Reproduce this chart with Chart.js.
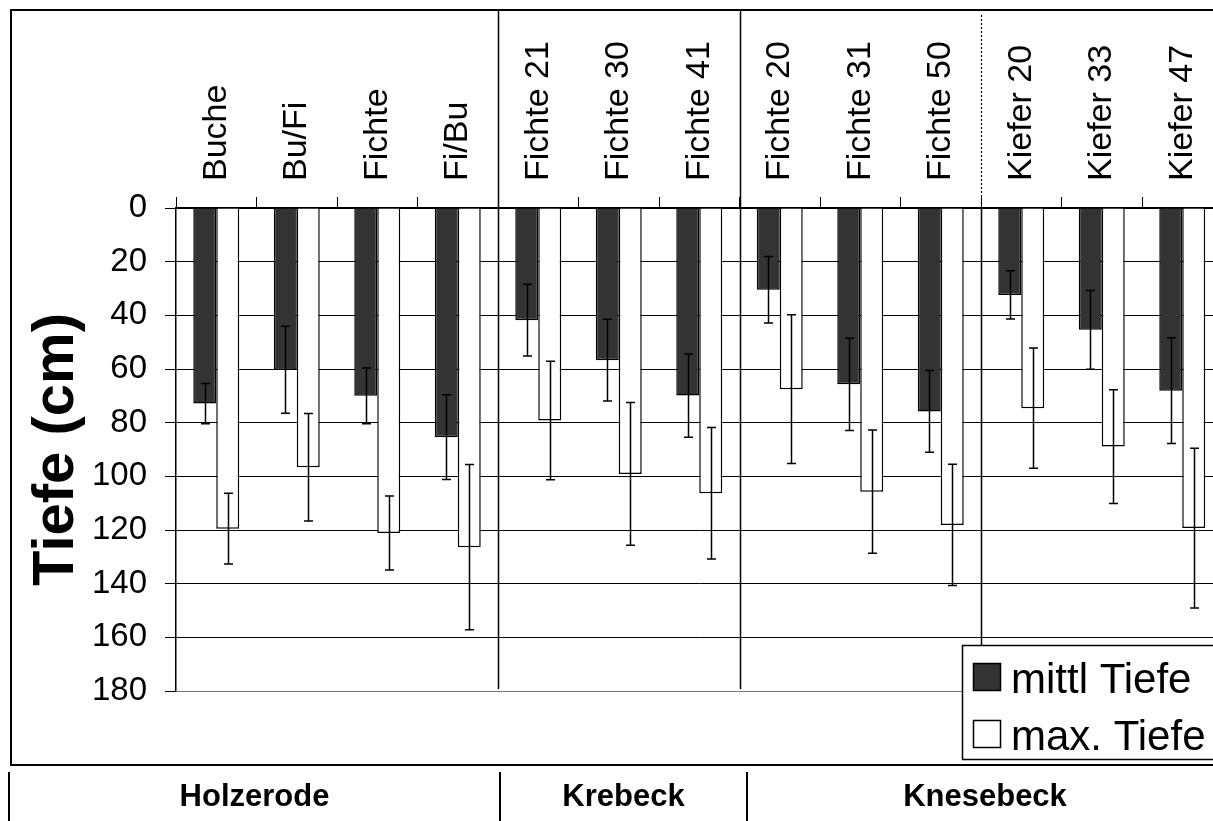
<!DOCTYPE html>
<html>
<head>
<meta charset="utf-8">
<script src="https://cdn.jsdelivr.net/npm/chart.js@4.4.1/dist/chart.umd.min.js"></script>
<style>
  html, body { margin: 0; padding: 0; background: #fff; overflow: hidden; }
  #wrap { position: absolute; left: 0; top: 0; width: 1240px; height: 821px; }
</style>
</head>
<body>
<div id="wrap"><canvas id="c" width="1240" height="821"></canvas></div>
<script>
// Stand-types (x categories)
const categories = ['Buche', 'Bu/Fi', 'Fichte', 'Fi/Bu',
  'Fichte 21', 'Fichte 30', 'Fichte 41',
  'Fichte 20', 'Fichte 31', 'Fichte 50',
  'Kiefer 20', 'Kiefer 33', 'Kiefer 47'];

// Mean rooting depth (cm) and its standard deviation
const mittlTiefe    = [72.9, 60.3, 70.0, 85.4, 41.8, 56.7, 69.9, 30.5, 65.7, 75.8, 32.4, 45.4, 68.1];
const mittlTiefeErr = [7.5, 16.2, 10.4, 15.8, 13.4, 15.2, 15.5, 12.4, 17.2, 15.2, 9.0, 14.7, 19.7];

// Maximum rooting depth (cm) and its standard deviation
const maxTiefe    = [119.5, 96.6, 121.1, 126.4, 79.2, 99.1, 106.3, 67.5, 105.7, 118.1, 74.6, 88.9, 119.3];
const maxTiefeErr = [13.2, 20.0, 13.8, 30.8, 22.1, 26.6, 24.5, 27.7, 23.0, 22.6, 22.4, 21.2, 29.8];

// Depth axis ticks
const yTicks = [0, 20, 40, 60, 80, 100, 120, 140, 160, 180];

// Sites, and the category index at which each new site starts
const sites = ['Holzerode', 'Krebeck', 'Knesebeck'];
const siteStarts = [4, 7];
// Within Knesebeck: spruce / pine split
const speciesSplit = 10;

const FONT = '"Liberation Sans", Arial, Helvetica, sans-serif';
const DARK = '#333333';

// Helper: pixel of the boundary just before category index i
function boundaryPx(xs, i) {
  return (xs.getPixelForValue(i - 1) + xs.getPixelForValue(i)) / 2;
}

const decorations = {
  id: 'decorations',
  beforeDraw(chart) {
    const ctx = chart.ctx;
    ctx.save();
    ctx.fillStyle = '#fff';
    ctx.fillRect(0, 0, chart.width, chart.height);
    ctx.restore();
  },
  afterDatasetsDraw(chart) {
    const ctx = chart.ctx;
    const xs = chart.scales.x, ys = chart.scales.y;
    const area = chart.chartArea;
    ctx.save();

    // site separators
    ctx.strokeStyle = '#000';
    ctx.lineWidth = 1.5;
    siteStarts.forEach(i => {
      const x = Math.round(boundaryPx(xs, i)) + 0.5;
      ctx.beginPath();
      ctx.moveTo(x, 10);
      ctx.lineTo(x, area.bottom - 2);
      ctx.stroke();
    });
    // spruce / pine separator: dotted above the axis, solid inside the plot
    const xs2 = Math.round(boundaryPx(xs, speciesSplit)) + 0.5;
    ctx.setLineDash([2, 2]);
    ctx.lineWidth = 1.2;
    ctx.beginPath();
    ctx.moveTo(xs2, 15);
    ctx.lineTo(xs2, area.top);
    ctx.stroke();
    ctx.setLineDash([]);
    ctx.lineWidth = 1.5;
    ctx.beginPath();
    ctx.moveTo(xs2, area.top);
    ctx.lineTo(xs2, 645);
    ctx.stroke();

    // error bars
    ctx.lineWidth = 1.5;
    chart.data.datasets.forEach((ds, di) => {
      const meta = chart.getDatasetMeta(di);
      meta.data.forEach((bar, i) => {
        const v = ds.data[i], e = ds.errors[i];
        const x = Math.round(bar.x) + 0.5;
        const y1 = ys.getPixelForValue(v - e);
        const y2 = ys.getPixelForValue(v + e);
        ctx.beginPath();
        ctx.moveTo(x, y1); ctx.lineTo(x, y2);
        ctx.moveTo(x - 4.5, y1); ctx.lineTo(x + 4.5, y1);
        ctx.moveTo(x - 4.5, y2); ctx.lineTo(x + 4.5, y2);
        ctx.stroke();
      });
    });
    ctx.restore();
  },
  afterDraw(chart) {
    const ctx = chart.ctx;
    ctx.save();

    // chart frame
    ctx.strokeStyle = '#000';
    ctx.lineWidth = 2;
    ctx.strokeRect(11, 10, chart.width + 20, 755);

    // legend
    ctx.fillStyle = '#fff';
    ctx.fillRect(962, 645, 300, 114);
    ctx.lineWidth = 1.5;
    ctx.strokeRect(962.5, 645.5, 300, 114);
    ctx.font = '42px ' + FONT;
    ctx.textBaseline = 'alphabetic';
    ctx.textAlign = 'left';
    chart.data.datasets.forEach((ds, di) => {
      const top = 663 + di * 57;
      ctx.fillStyle = ds.backgroundColor;
      ctx.fillRect(973, top, 28, 28);
      ctx.strokeStyle = '#000';
      ctx.lineWidth = 1.5;
      ctx.strokeRect(973.5, top + 0.5, 27, 27);
      ctx.fillStyle = '#000';
      ctx.fillText(ds.label, 1011, top + 30);
    });

    // site table beneath the chart
    const cols = [9, 500, 747, 1223];
    ctx.strokeStyle = '#000';
    ctx.lineWidth = 2;
    cols.forEach(x => {
      ctx.beginPath();
      ctx.moveTo(x, 772);
      ctx.lineTo(x, 821);
      ctx.stroke();
    });
    ctx.font = 'bold 31px ' + FONT;
    ctx.textAlign = 'center';
    ctx.fillStyle = '#000';
    sites.forEach((s, i) => {
      ctx.fillText(s, (cols[i] + cols[i + 1]) / 2, 806);
    });
    ctx.restore();
  }
};

new Chart(document.getElementById('c'), {
  type: 'bar',
  data: {
    labels: categories,
    datasets: [
      {
        label: 'mittl Tiefe',
        data: mittlTiefe,
        errors: mittlTiefeErr,
        backgroundColor: DARK,
        borderColor: '#000',
        borderWidth: 1.5,
        categoryPercentage: 0.571,
        barPercentage: 1.0
      },
      {
        label: 'max. Tiefe',
        data: maxTiefe,
        errors: maxTiefeErr,
        backgroundColor: '#ffffff',
        borderColor: '#000',
        borderWidth: 1.5,
        categoryPercentage: 0.571,
        barPercentage: 1.0
      }
    ]
  },
  options: {
    responsive: false,
    animation: false,
    devicePixelRatio: 1,
    layout: { padding: { left: 0, top: 0, right: 17.5, bottom: 130 } },
    plugins: {
      legend: { display: false },
      tooltip: { enabled: false },
      title: { display: false }
    },
    scales: {
      x: {
        position: 'top',
        offset: true,
        afterFit(scale) { scale.height = 208; },
        grid: {
          offset: true,
          drawOnChartArea: false,
          drawTicks: true,
          tickLength: 11,
          color: '#000',
          lineWidth: 1
        },
        border: { display: true, color: '#000', width: 1.5 },
        ticks: {
          autoSkip: false,
          minRotation: 90,
          maxRotation: 90,
          padding: 16,
          labelOffset: 34,
          color: '#000',
          font: { family: FONT, size: 34, lineHeight: 1 }
        }
      },
      y: {
        reverse: true,
        min: 0,
        max: 180,
        afterFit(scale) { scale.width = 176; },
        afterBuildTicks(scale) { scale.ticks = yTicks.map(v => ({ value: v })); },
        grid: {
          color: (c) => (c.tick && c.tick.value === 180 ? '#777' : '#000'),
          tickColor: '#000',
          lineWidth: 1,
          drawTicks: true,
          tickLength: 11
        },
        border: { display: true, color: '#000', width: 1.5 },
        ticks: {
          padding: 18,
          color: '#000',
          font: { family: FONT, size: 33, lineHeight: 1 }
        },
        title: {
          display: true,
          text: 'Tiefe (cm)',
          color: '#000',
          padding: { top: 28, bottom: 0 },
          font: { family: FONT, size: 58, weight: 'bold', lineHeight: 1 }
        }
      }
    }
  },
  plugins: [decorations]
});
</script>
</body>
</html>
